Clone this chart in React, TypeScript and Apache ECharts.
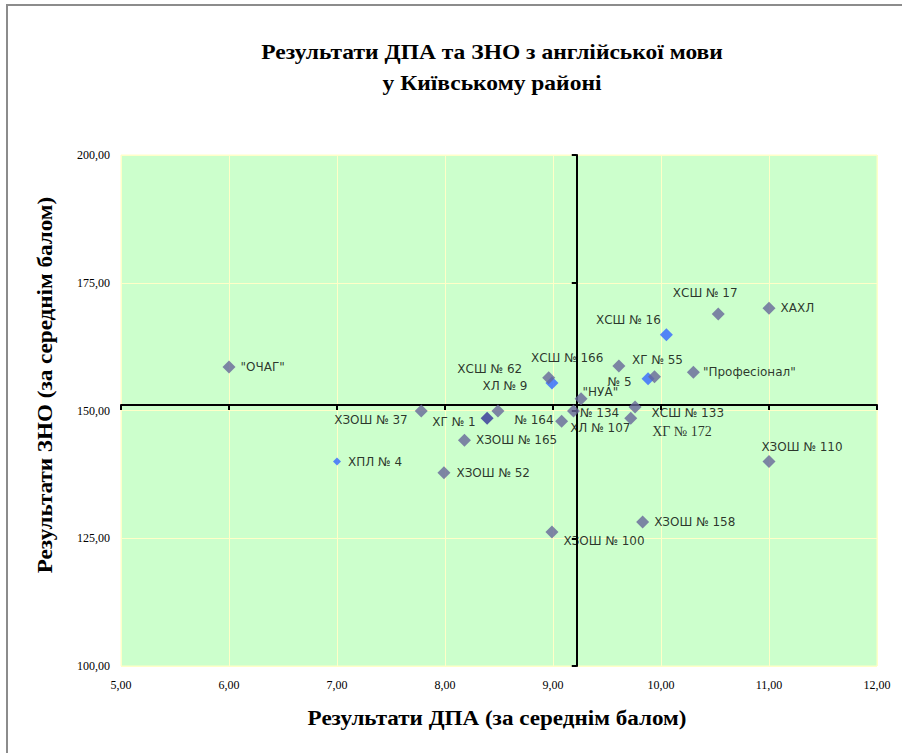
import React, { useEffect, useRef } from "react";
import * as echarts from "echarts";

// ---- Data ----
const schools = [
  '"ОЧАГ"', "ХПЛ № 4", "ХЗОШ № 37", "ХГ № 1", "№ 164", "ХЗОШ № 165", "ХЗОШ № 52",
  "ХСШ № 62", "ХЛ № 9", "ХСШ № 166", "№ 134", "ХЛ № 107", '"НУА"', "№ 5", "ХГ № 55",
  "ХСШ № 16", "ХСШ № 17", "ХАХЛ", '"Професіонал"', "ХСШ № 133", "ХГ № 172",
  "ХЗОШ № 110", "ХЗОШ № 158", "ХЗОШ № 100",
];
const dpaValues = [
  6.0, 7.0, 7.78, 8.39, 8.49, 8.18, 7.99,
  8.96, 8.99, 9.61, 9.19, 9.08, 9.26, 9.88, 9.94,
  10.05, 10.53, 11.0, 10.3, 9.76, 9.72,
  11.0, 9.83, 8.99,
];
const znoValues = [
  158.5, 140.0, 149.9, 148.5, 149.9, 144.2, 137.8,
  156.4, 155.4, 158.7, 149.9, 147.9, 152.3, 156.2, 156.6,
  164.8, 168.9, 170.0, 157.5, 150.7, 148.5,
  140.0, 128.2, 126.2,
];
// marker group: 0 = grey, 1 = blue, 2 = dark blue, 3 = small blue
const markerGroup = [
  0, 3, 0, 2, 0, 0, 0,
  0, 1, 0, 0, 0, 0, 1, 0,
  1, 0, 0, 0, 0, 0,
  0, 0, 0,
];
const dpaMean = 9.22;
const znoMean = 151.1;
const xTicks = { min: 5, max: 12, step: 1 };
const yTicks = { min: 100, max: 200, step: 25 };

const titleText = "Результати ДПА та ЗНО з англійської мови\nу Київському районі";
const xTitle = "Результати ДПА (за середнім балом)";
const yTitle = "Результати ЗНО (за середнім балом)";

// ---- label placement (style only): [position, dx, dy] ----
const labelLayout: Record<string, [string, number, number]> = {
  '"ОЧАГ"': ["right", 0, 0],
  "ХПЛ № 4": ["right", 2, 0],
  "ХЗОШ № 37": ["left", -2, 9],
  "ХГ № 1": ["left", 0, 4],
  "№ 164": ["right", 5, 9],
  "ХЗОШ № 165": ["right", 0, 0],
  "ХЗОШ № 52": ["right", 1, 0],
  "ХСШ № 62": ["left", -15, -9],
  "ХЛ № 9": ["left", -13, 3],
  "ХСШ № 166": ["left", -4, -8],
  "№ 134": ["right", -5, 2],
  "ХЛ № 107": ["right", -3, 7],
  '"НУА"': ["right", -10, -7],
  "№ 5": ["left", -5, 3],
  "ХГ № 55": ["top", 3, 1],
  "ХСШ № 16": ["top", -38, 3],
  "ХСШ № 17": ["top", -13, -3],
  "ХАХЛ": ["right", 0, 0],
  '"Професіонал"': ["right", -2, 0],
  "ХСШ № 133": ["right", 5, 6],
  "ХГ № 172": ["right", 10, 13],
  "ХЗОШ № 110": ["top", 33, 3],
  "ХЗОШ № 158": ["right", 0, 0],
  "ХЗОШ № 100": ["right", 0, 9],
};

const groupColors = ["#666699", "#3366FF", "#333399", "#3366FF"];
const groupSizes = [13, 13, 13, 8];
const groupZ = [4, 3, 3, 3];

const fmt = (v: number) => v.toFixed(2).replace(".", ",");

export default function App() {
  const ref = useRef<HTMLDivElement>(null);

  useEffect(() => {
    if (!ref.current) return;
    const chart = echarts.init(ref.current, null, { renderer: "svg" });

    const seriesData = [0, 1, 2, 3].map((g) =>
      schools
        .map((name, i) => ({ name, i }))
        .filter((d) => markerGroup[d.i] === g)
        .map(({ name, i }) => {
          const lay = labelLayout[name] || ["right", 0, 0];
          const serif = name === "ХГ № 172";
          return {
            name,
            value: [dpaValues[i], znoValues[i]],
            label: {
              show: true,
              position: lay[0],
              offset: [lay[1], lay[2]],
              fontFamily: serif ? "Liberation Serif" : "DejaVu Sans",
              fontSize: serif ? 14 : 12,
            },
          };
        })
    );

    const titleFont = "bold 21px 'Liberation Serif'";

    const option: any = {
      animation: false,
      backgroundColor: "#ffffff",
      grid: {
        left: 121,
        right: 25,
        top: 155,
        bottom: 87,
        show: true,
        backgroundColor: "#CCFFCC",
        borderColor: "#FFFFC8",
        borderWidth: 1,
      },
      xAxis: [
        {
          type: "value",
          min: xTicks.min,
          max: xTicks.max,
          interval: xTicks.step,
          position: "bottom",
          axisLine: { show: false, onZero: false },
          axisTick: { show: false },
          axisLabel: {
            formatter: fmt,
            fontFamily: "Liberation Serif",
            fontSize: 12,
            color: "#000",
            margin: 13,
          },
          splitLine: { show: true, lineStyle: { color: "#FFFFC8", width: 1 } },
        },
        {
          type: "value",
          min: xTicks.min,
          max: xTicks.max,
          interval: xTicks.step,
          position: "bottom",
          axisLine: {
            show: true,
            onZero: true,
            onZeroAxisIndex: 1,
            lineStyle: { color: "#000", width: 2 },
          },
          axisTick: { show: true, length: 5, lineStyle: { color: "#000", width: 2 } },
          axisLabel: { show: false },
          splitLine: { show: false },
        },
        {
          type: "value",
          min: xTicks.min - dpaMean,
          max: xTicks.max - dpaMean,
          show: false,
          axisLine: { onZero: false },
          splitLine: { show: false },
        },
      ],
      yAxis: [
        {
          type: "value",
          min: yTicks.min,
          max: yTicks.max,
          interval: yTicks.step,
          position: "left",
          axisLine: { show: false, onZero: false },
          axisTick: { show: false },
          axisLabel: {
            formatter: fmt,
            fontFamily: "Liberation Serif",
            fontSize: 12,
            color: "#000",
            margin: 11,
          },
          splitLine: { show: true, lineStyle: { color: "#FFFFC8", width: 1 } },
        },
        {
          type: "value",
          min: yTicks.min - znoMean,
          max: yTicks.max - znoMean,
          show: false,
          position: "right",
          axisLine: { onZero: false },
          splitLine: { show: false },
        },
        {
          type: "value",
          min: yTicks.min,
          max: yTicks.max,
          interval: yTicks.step,
          position: "left",
          axisLine: {
            show: true,
            onZero: true,
            onZeroAxisIndex: 2,
            lineStyle: { color: "#000", width: 2 },
          },
          axisTick: { show: true, length: 5, lineStyle: { color: "#000", width: 2 } },
          axisLabel: { show: false },
          splitLine: { show: false },
        },
      ],
      series: seriesData.map((data, g) => ({
        type: "scatter",
        xAxisIndex: 0,
        yAxisIndex: 0,
        symbol: "diamond",
        symbolSize: groupSizes[g],
        itemStyle: { color: groupColors[g] },
        z: groupZ[g],
        label: {
          show: true,
          formatter: (p: any) => p.name,
          color: "#000",
          fontFamily: "DejaVu Sans",
          fontSize: 12,
        },
        data,
      })),
      graphic: [
        {
          type: "text",
          x: 492,
          y: 67,
          scaleX: 1.12,
          style: {
            text: titleText,
            font: titleFont,
            fill: "#000",
            textAlign: "center",
            textVerticalAlign: "middle",
            lineHeight: 31,
          },
        },
        {
          type: "text",
          x: 497,
          y: 718,
          scaleX: 1.1,
          style: {
            text: xTitle,
            font: titleFont,
            fill: "#000",
            textAlign: "center",
            textVerticalAlign: "middle",
          },
        },
        {
          type: "text",
          x: 45,
          y: 385,
          rotation: Math.PI / 2,
          scaleX: 1.1,
          style: {
            text: yTitle,
            font: titleFont,
            fill: "#000",
            textAlign: "center",
            textVerticalAlign: "middle",
          },
        },
      ],
    };

    chart.setOption(option);
    return () => chart.dispose();
  }, []);

  return (
    <div
      style={{
        position: "fixed",
        left: 0,
        top: 0,
        width: 902,
        height: 753,
        overflow: "hidden",
        background: "#fff",
      }}
    >
      <div ref={ref} style={{ position: "absolute", left: 0, top: 0, width: 902, height: 753 }} />
      <div
        style={{
          position: "absolute",
          left: 6,
          top: 4,
          width: 1000,
          height: 1000,
          border: "2px solid #8c8c8c",
          pointerEvents: "none",
        }}
      />
    </div>
  );
}
